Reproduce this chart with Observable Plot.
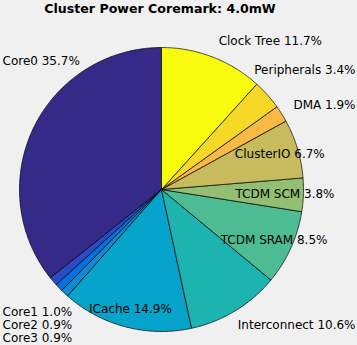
<!DOCTYPE html>
<html><head><meta charset="utf-8">
<script src="https://cdn.jsdelivr.net/npm/d3@7"></script>
<script src="https://cdn.jsdelivr.net/npm/@observablehq/plot@0.6"></script>
<style>
html,body{margin:0;padding:0;background:#f0f0f0;overflow:hidden;}
#title{font:bold 12.6px "DejaVu Sans";height:17px;line-height:17px;width:357px;box-sizing:border-box;padding-right:37px;text-align:center;color:#000;white-space:nowrap;}
#chart svg{display:block;}
</style></head><body>
<div id="title"></div>
<div id="chart"></div>
<script>
// ---- data ----
const titleText = "Cluster Power Coremark: 4.0mW";
const categories = ["Core0","Core1","Core2","Core3","ICache","Interconnect","TCDM SRAM","TCDM SCM","ClusterIO","DMA","Peripherals","Clock Tree"];
const shares = [35.7, 1.0, 0.9, 0.9, 14.9, 10.6, 8.5, 3.8, 6.7, 1.9, 3.4, 11.7];
// labels drawn inside their slice (by category)
const insideLabels = ["ICache","TCDM SRAM","TCDM SCM","ClusterIO"];
// parula colormap samples (styling)
const palette = ["#352a87","#2b4ac7","#0871de","#1389d3","#06a4ca","#1db3af","#4dbc92","#92bf73","#c8bb5d","#f8ba44","#f7d826","#f9fb0e"];

document.getElementById("title").textContent = titleText;

// ---- layout ----
const W = 357, H = 328, cx = 161, cy = 172, R = 142;
const outR = 1.12, inR = 0.87, pad = 2, gap = 13, halfH = 7;
const font = "12px 'DejaVu Sans'";
const ctx = document.createElement("canvas").getContext("2d");
ctx.font = font;

const total = d3.sum(shares);
let acc = 0;
const slices = categories.map((c, i) => {
  const a0 = acc / total * 2 * Math.PI; acc += shares[i];
  const a1 = acc / total * 2 * Math.PI;
  return {c, i, a0, a1, mid: (a0 + a1) / 2, label: `${c} ${shares[i].toFixed(1)}%`, color: palette[i]};
});

// wedge outlines (counter-clockwise from 12 o'clock)
const wedges = slices.map(s => {
  const n = Math.max(2, Math.ceil((s.a1 - s.a0) / (Math.PI / 360)));
  const pts = [{x: 0, y: 0}];
  for (let k = 0; k <= n; k++) {
    const a = s.a0 + (s.a1 - s.a0) * k / n;
    pts.push({x: -Math.sin(a), y: Math.cos(a)});
  }
  pts.push({x: 0, y: 0});
  return {s, pts};
});

// keep an outside label box clear of the disc by moving it vertically
function clearDisc(l) {
  const nx = Math.max(l.px, Math.min(cx, l.px + l.w));
  const dx = nx - cx;
  const lim = R + 4;
  if (Math.abs(dx) >= lim) return;
  const ny = Math.max(l.py - halfH, Math.min(cy, l.py + halfH));
  if (Math.hypot(dx, ny - cy) >= lim) return;
  const dy = Math.sqrt(lim * lim - dx * dx);
  l.py = l.py < cy ? cy - dy - halfH : cy + dy + halfH;
}

// label placement (pixel space, then converted to data units)
const labels = slices.map(s => {
  const w = ctx.measureText(s.label).width;
  if (insideLabels.includes(s.c)) {
    return {label: s.label, inside: true, w, px: cx - Math.sin(s.mid) * R * inR, py: cy - Math.cos(s.mid) * R * inR};
  }
  const ax = cx - Math.sin(s.mid) * R * outR, ay = cy - Math.cos(s.mid) * R * outR;
  const right = -Math.sin(s.mid) >= 0;
  const left = right ? Math.min(ax, W - pad - w) : Math.max(pad, ax - w);
  const l = {label: s.label, inside: false, right, w, px: left, py: ay};
  clearDisc(l);
  return l;
});
for (const side of [true, false]) {
  const group = labels.filter(l => !l.inside && l.right === side).sort((a, b) => a.py - b.py);
  for (let k = 1; k < group.length; k++) group[k].py = Math.max(group[k].py, group[k - 1].py + gap);
}
labels.forEach(l => { l.x = (l.px - cx) / R; l.y = (cy - l.py) / R; });

const chart = Plot.plot({
  width: W, height: H, margin: 0,
  style: {background: "transparent", overflow: "visible"},
  x: {domain: [-cx / R, (W - cx) / R], axis: null},
  y: {domain: [-(H - cy) / R, cy / R], axis: null},
  marks: [
    ...wedges.map(w => Plot.line(w.pts, {x: "x", y: "y", fill: w.s.color, stroke: "#000", strokeWidth: 0.7, strokeLinejoin: "round"})),
    Plot.text(labels.filter(l => l.inside), {x: "x", y: "y", text: "label", textAnchor: "middle", lineAnchor: "middle", fontFamily: "DejaVu Sans", fontSize: 12, fill: "#000"}),
    Plot.text(labels.filter(l => !l.inside), {x: "x", y: "y", text: "label", textAnchor: "start", lineAnchor: "middle", fontFamily: "DejaVu Sans", fontSize: 12, fill: "#000"})
  ]
});
document.getElementById("chart").appendChild(chart);
</script>
</body></html>
